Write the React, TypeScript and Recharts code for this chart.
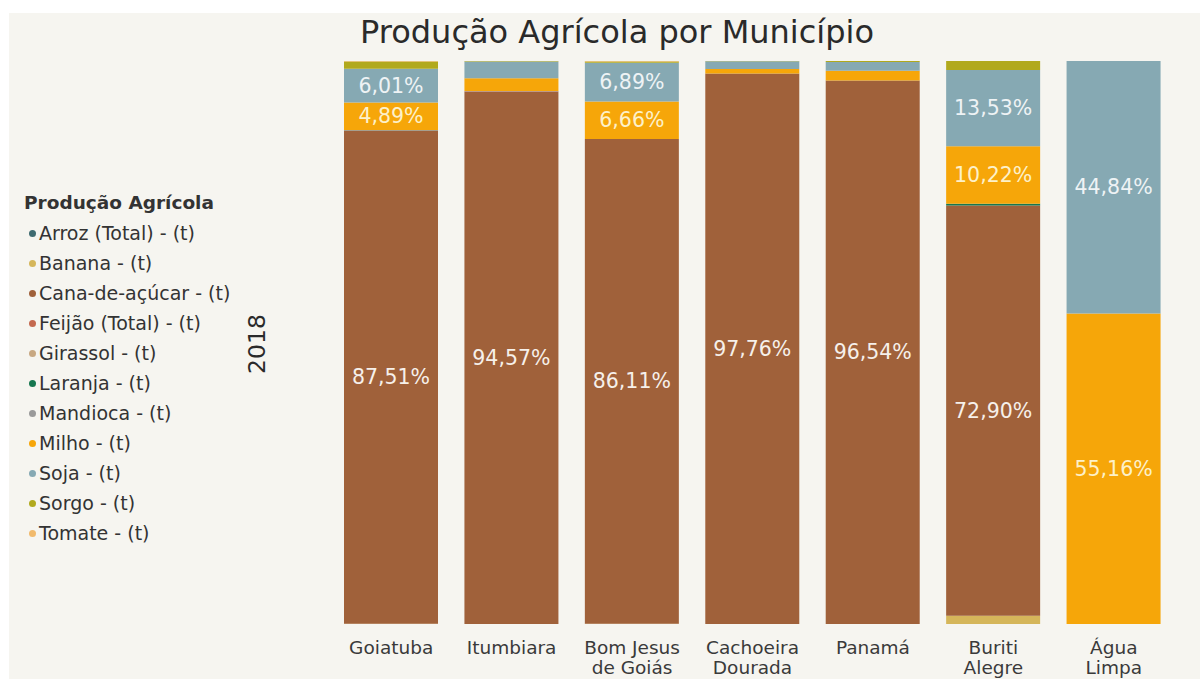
import React from 'react';
import { BarChart, Bar, XAxis, YAxis, LabelList } from 'recharts';

const categories = ['Goiatuba', 'Itumbiara', 'Bom Jesus\nde Goiás', 'Cachoeira\nDourada', 'Panamá', 'Buriti\nAlegre', 'Água\nLimpa'];

const seriesNames = ['Arroz (Total) - (t)', 'Banana - (t)', 'Cana-de-açúcar - (t)', 'Feijão (Total) - (t)', 'Girassol - (t)', 'Laranja - (t)', 'Mandioca - (t)', 'Milho - (t)', 'Soja - (t)', 'Sorgo - (t)', 'Tomate - (t)'];
const seriesColors = ['#3f6b70', '#d5b65a', '#a0613a', '#c4694f', '#c8a882', '#17774f', '#9a9a9a', '#f6a609', '#86a9b3', '#b1a91d', '#f1ba6c'];
const labelColors = ['#ffffff', '#ffffff', '#f6f0ea', '#ffffff', '#ffffff', '#ffffff', '#ffffff', '#fdf1c9', '#eef3f5', '#ffffff', '#ffffff'];

const arroz =    [0,     0,     0,     0,     0,     0,     0];
const banana =   [0.05,  0,     0.04,  0,     0,     1.45,  0];
const cana =     [87.51, 94.57, 86.11, 97.76, 96.54, 72.90, 0];
const feijao =   [0.1,   0.05,  0,     0,     0,     0,     0];
const girassol = [0,     0,     0,     0,     0,     0,     0];
const laranja =  [0.02,  0,     0,     0,     0,     0.3,   0];
const mandioca = [0.05,  0.05,  0,     0,     0,     0,     0];
const milho =    [4.89,  2.25,  6.66,  0.8,   1.75,  10.22, 55.16];
const soja =     [6.01,  2.98,  6.89,  1.4,   1.55,  13.53, 44.84];
const sorgo =    [1.27,  0.1,   0.2,   0.04,  0.16,  1.6,   0];
const tomate =   [0.1,   0,     0.1,   0,     0,     0,     0];

const seriesValues = [arroz, banana, cana, feijao, girassol, laranja, mandioca, milho, soja, sorgo, tomate];
const keys = seriesNames.map((_, i) => 's' + i);

const data = categories.map((c, ci) => {
  const row: any = { name: c };
  seriesValues.forEach((vals, si) => { row[keys[si]] = vals[ci]; });
  return row;
});

const FONT = '"DejaVu Sans", Verdana, sans-serif';

const Tick = (props: any) => {
  const { x, payload } = props;
  const lines = String(payload.value).split('\n');
  return (
    <g>
      {lines.map((l, i) => (
        <text key={i} x={x} y={654 + i * 20} textAnchor="middle" fontSize={18.5} fill="#3a3a3a" fontFamily={FONT}>{l}</text>
      ))}
    </g>
  );
};

const makeLabel = (color: string) => (props: any) => {
  const { x, y, width, height, value } = props;
  if (value == null || value < 4) return null;
  const txt = Number(value).toFixed(2).replace('.', ',') + '%';
  return (
    <text x={x + width / 2} y={y + height / 2} dy={7} textAnchor="middle" fontSize={20.5} fill={color} fontFamily={FONT}>{txt}</text>
  );
};

export default function App() {
  return (
    <div style={{ position: 'absolute', left: 0, top: 0, width: 1200, height: 679, background: '#ffffff', overflow: 'hidden' }}>
      <div style={{ position: 'absolute', left: 9, top: 13, width: 1191, height: 666, background: '#f6f5f0' }} />
      <div style={{ position: 'absolute', left: 617, top: 12, transform: 'translateX(-50%)', whiteSpace: 'nowrap', fontFamily: FONT, fontSize: 32, color: '#2a2a2a', lineHeight: '40px' }}>
        Produção Agrícola por Município
      </div>
      <div style={{ position: 'absolute', left: 257, top: 344, transform: 'translate(-50%, -50%) rotate(-90deg)', fontFamily: FONT, fontSize: 23.5, color: '#2a2a2a' }}>
        2018
      </div>
      <div style={{ position: 'absolute', left: 24, top: 188, fontFamily: FONT, color: '#333' }}>
        <div style={{ fontWeight: 700, fontSize: 18.5, height: 30, lineHeight: '30px', whiteSpace: 'nowrap' }}>Produção Agrícola</div>
        {seriesNames.map((n, i) => (
          <div key={n} style={{ fontSize: 19, height: 30, lineHeight: '30px', display: 'flex', alignItems: 'center', whiteSpace: 'nowrap' }}>
            <span style={{ display: 'inline-block', width: 7, height: 7, borderRadius: 4, background: seriesColors[i], marginLeft: 5, marginRight: 3 }} />
            <span>{n}</span>
          </div>
        ))}
      </div>
      <div style={{ position: 'absolute', left: 0, top: 0 }}>
        <BarChart width={1200} height={679} data={data} margin={{ top: 61, right: 26, bottom: 0, left: 331 }} barSize={94}>
          <XAxis dataKey="name" axisLine={false} tickLine={false} height={55} tick={<Tick />} interval={0} />
          <YAxis hide domain={[0, 100]} />
          {keys.map((k, i) => (
            <Bar key={k} dataKey={k} stackId="a" fill={seriesColors[i]} isAnimationActive={false} name={seriesNames[i]}>
              <LabelList dataKey={k} content={makeLabel(labelColors[i])} />
            </Bar>
          ))}
        </BarChart>
      </div>
    </div>
  );
}
